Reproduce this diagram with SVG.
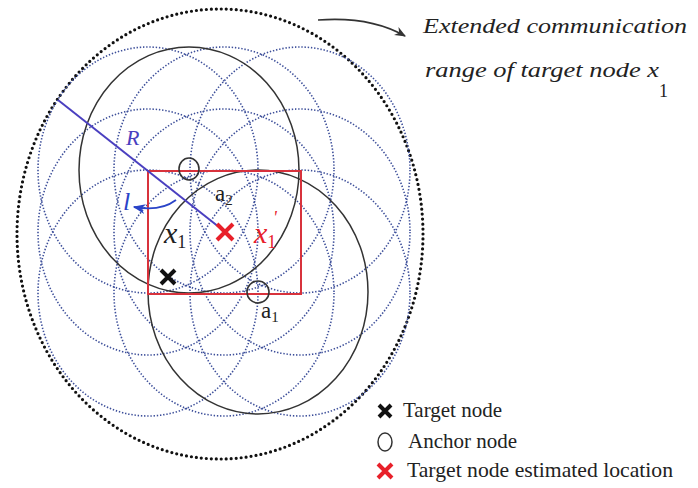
<svg xmlns="http://www.w3.org/2000/svg" width="698" height="488" viewBox="0 0 698 488">
<defs>
<style>
.big{fill:none;stroke:#111;stroke-width:3.2;stroke-dasharray:0 5;stroke-linecap:round}
.dot{fill:none;stroke:#3d4f9a;stroke-width:1.6;stroke-dasharray:1.4 1.8}
.blk{fill:none;stroke:#333;stroke-width:1.5}
.anc{fill:none;stroke:#333;stroke-width:1.6}
.xk{stroke:#111;stroke-width:4;stroke-linecap:butt}
.xr{stroke:#e8202a;stroke-width:4;stroke-linecap:butt}
</style>
<marker id="ah" viewBox="0 0 10 10" refX="9" refY="5" markerWidth="7" markerHeight="7" orient="auto">
<path d="M0,1 L10,5 L0,9 L3,5 z" fill="#333"/>
</marker>
<marker id="ahb" viewBox="0 0 10 10" refX="9" refY="5" markerWidth="7" markerHeight="7" orient="auto">
<path d="M0,1 L10,5 L0,9 L3,5 z" fill="#2a44c8"/>
</marker>
</defs>
<rect width="698" height="488" fill="#fff"/>

<g id="range">
<ellipse class="big" cx="220" cy="234" rx="203" ry="225"/>
</g>

<g id="grid-circles">
<ellipse class="dot" cx="148" cy="170" rx="110" ry="123"/>
<ellipse class="dot" cx="224" cy="170" rx="110" ry="123"/>
<ellipse class="dot" cx="300" cy="170" rx="110" ry="123"/>
<ellipse class="dot" cx="148" cy="232" rx="110" ry="123"/>
<ellipse class="dot" cx="224" cy="232" rx="110" ry="123"/>
<ellipse class="dot" cx="300" cy="232" rx="110" ry="123"/>
<ellipse class="dot" cx="148" cy="293" rx="110" ry="123"/>
<ellipse class="dot" cx="224" cy="293" rx="110" ry="123"/>
<ellipse class="dot" cx="300" cy="293" rx="110" ry="123"/>
</g>

<g id="anchor-ranges">
<ellipse class="blk" cx="189" cy="170" rx="110" ry="123"/>
<ellipse class="blk" cx="258" cy="292" rx="110" ry="122"/>
</g>

<g id="box">
<rect x="148" y="171" width="153" height="123" fill="none" stroke="#d8323c" stroke-width="2"/>
</g>

<g id="connectors">
<line x1="58" y1="100" x2="224" y2="231" stroke="#4a3fc0" stroke-width="2"/>
<path d="M176,200 Q160,212 134,207" fill="none" stroke="#2a44c8" stroke-width="1.8" marker-end="url(#ahb)"/>
<path d="M318,20 Q370,16 405,36" fill="none" stroke="#333" stroke-width="1.6" marker-end="url(#ah)"/>
</g>

<g id="anchor-a2" font-family="Liberation Serif, Times New Roman, serif">
<ellipse class="anc" cx="189" cy="169" rx="10" ry="11"/>
<text x="215" y="201" font-size="23" fill="#222">a<tspan font-size="15" dy="4">2</tspan></text>
</g>
<g id="anchor-a1" font-family="Liberation Serif, Times New Roman, serif">
<ellipse class="anc" cx="258" cy="292" rx="11" ry="11"/>
<text x="261" y="318" font-size="23" fill="#222">a<tspan font-size="15" dy="4">1</tspan></text>
</g>

<g id="target-x1" font-family="Liberation Serif, Times New Roman, serif">
<path class="xk" d="M161,270 L175,284 M175,270 L161,284"/>
<text x="164" y="243" font-size="30" font-style="italic" fill="#222">x<tspan font-style="normal" font-size="18" dy="5">1</tspan></text>
</g>

<g id="estimate-x1p" font-family="Liberation Serif, Times New Roman, serif">
<path class="xr" d="M217,224 L233,240 M233,224 L217,240"/>
<text x="254" y="243" font-size="30" font-style="italic" fill="#e8202a">x<tspan font-style="normal" font-size="18" dy="5">1</tspan></text>
<text x="273" y="224" font-size="18" font-style="italic" fill="#e8202a">'</text>
</g>

<g id="labels" font-family="Liberation Serif, Times New Roman, serif" font-style="italic">
<text x="126" y="145" font-size="22" fill="#4a3fc0">R</text>
<text x="123" y="210" font-size="26" fill="#2a44c8">l</text>
<text x="423" y="33" font-size="21" fill="#222" textLength="264" lengthAdjust="spacingAndGlyphs">Extended communication</text>
<text x="425" y="77" font-size="21" fill="#222" textLength="234" lengthAdjust="spacingAndGlyphs">range of target node x</text>
<text x="659" y="97" font-size="18" font-style="normal" fill="#222">1</text>
</g>

<g id="legend" font-family="Liberation Serif, Times New Roman, serif">
<path class="xk" d="M379,405 L391,417 M391,405 L379,417"/>
<text x="403" y="417" font-size="21" fill="#222">Target node</text>
<ellipse cx="385" cy="442" rx="7" ry="9" fill="none" stroke="#333" stroke-width="1.5"/>
<text x="408" y="448" font-size="21" fill="#222">Anchor node</text>
<path class="xr" d="M378,464 L392,478 M392,464 L378,478"/>
<text x="407" y="477" font-size="21" fill="#222" textLength="266" lengthAdjust="spacingAndGlyphs">Target node estimated location</text>
</g>
</svg>
